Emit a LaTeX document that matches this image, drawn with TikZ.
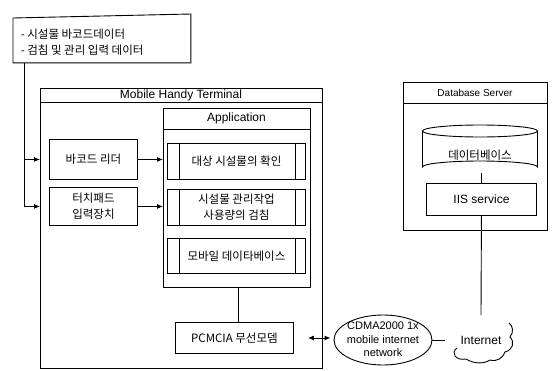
\documentclass[tikz,border=0pt]{standalone}
\usepackage{fontspec}
\setmainfont{Liberation Sans}
\newfontfamily\kr{Noto Sans CJK KR}
\usetikzlibrary{shapes.geometric,arrows.meta}
\begin{document}
\begin{tikzpicture}[x=1pt,y=-1pt, line width=0.9pt,
  box/.style={draw, rectangle, inner sep=0pt, align=center, anchor=north west},
  ktext/.style={font=\kr\fontsize{11.5}{16}\selectfont, align=center},
  etext/.style={font=\fontsize{12}{14.5}\selectfont, align=center},
  ctext/.style={font=\fontsize{11}{13.5}\selectfont, align=center},
  stext/.style={font=\fontsize{10}{12}\selectfont, align=center},
  arr/.style={-{Latex[length=6pt,width=5pt]}},
  darr/.style={{Latex[length=6pt,width=5pt]}-{Latex[length=6pt,width=5pt]}},
]
\useasboundingbox (0,0) rectangle (555,370);

% note
\node[box, draw=none, minimum width=177, minimum height=46] (note) at (13,16) {};
\draw ([yshift=-2pt]note.north west) -- ([yshift=2pt]note.north east) -- (note.south east) -- (note.south west) -- cycle;
\node[ktext, anchor=west] (n1) at (17,34) {- 시설물 바코드데이터};
\node[ktext, anchor=west] (n2) at (17,50) {- 검침 및 관리 입력 데이터};

% Mobile Handy Terminal
\node[box, minimum width=282, minimum height=280] (mht) at (40,88) {};
\node[etext] (mhtt) at (181,95.5) {Mobile Handy Terminal};
\draw (mht.west |- 0,102) -- (mht.east |- 0,102);

% Application
\node[box, minimum width=147, minimum height=179] (app) at (163,108) {};
\node[etext] (appt) at (236.5,118.5) {Application};
\draw (app.west |- 0,129) -- (app.east |- 0,129);

\tikzset{subbox/.style={box, minimum width=138, ktext}}
\node[subbox, minimum height=36] (b1) at (167,143) {대상 시설물의 확인};
\node[subbox, minimum height=36] (b2) at (167,189) {시설물 관리작업\\사용량의 검침};
\node[subbox, minimum height=35] (b3) at (167,238) {모바일 데이타베이스};
\foreach \b in {b1,b2,b3}{
  \draw ([xshift=12pt]\b.north west) -- ([xshift=12pt]\b.south west);
  \draw ([xshift=-10pt]\b.north east) -- ([xshift=-10pt]\b.south east);
}

% input devices
\node[box, minimum width=88, minimum height=40, ktext] (bar) at (49,139) {바코드 리더};
\node[box, minimum width=88, minimum height=38, ktext] (touch) at (49,187) {터치패드\\입력장치};

% modem
\node[box, minimum width=118, minimum height=31, ktext] (pcm) at (175,322) {PCMCIA 무선모뎀};

% CDMA ellipse
\node[draw, ellipse, minimum width=98, minimum height=50, inner sep=0pt] (cdma) at (383,340) {};
\node[ctext] (cdmat) at (383,339.5) {CDMA2000 1x\\mobile internet\\network};

% Internet cloud
\draw (457,348) .. controls (450,353) and (456,361) .. (466,359)
  .. controls (474,364) and (484,364) .. (490,360)
  .. controls (497,362) and (503,358) .. (505,352)
  .. controls (513,350) and (515,342) .. (510,337)
  .. controls (514,332) and (513,326) .. (509,323);
\node[etext] (inet) at (481,340) {Internet};
\coordinate (cloudL) at (445,340);
\coordinate (cloudT) at (481,315);

% Database server
\node[box, minimum width=144, minimum height=148] (dbs) at (403,82) {};
\node[stext] (dbst) at (475,92.5) {Database Server};
\draw (dbs.west |- 0,103) -- (dbs.east |- 0,103);

% cylinder
\node[minimum width=115, minimum height=48, inner sep=0pt] (cyl) at (480,149) {};
\draw (480,131) ellipse [x radius=57.5, y radius=6];
\draw (422.5,131) -- (422.5,167) arc[start angle=180, end angle=360, x radius=57.5, y radius=6] -- (537.5,131);
\node[ktext] (cylt) at (480,155) {데이터베이스};

\node[box, minimum width=110, minimum height=32, etext] (iis) at (426,183) {IIS service};

% connectors
\coordinate (vx) at (24,0);
\draw[arr] (note.south -| vx) |- (mht.west |- touch);
\draw[arr] (vx |- bar) -- (mht.west |- bar);
\draw[arr] (bar.east) -- (app.west |- bar);
\draw[arr] (touch.east) -- (app.west |- touch);
\draw (pcm.north -| 238,0) -- (app.south -| 238,0);
\draw[darr, shorten <=14pt, shorten >=3pt] (pcm.east) -- (pcm.east -| cdma.west);
\draw (cdma.east) -- (cloudL);
\draw (iis.north |- cyl.south) -- (iis.north);
\draw (iis.south) -- (cloudT);
\end{tikzpicture}
\end{document}
